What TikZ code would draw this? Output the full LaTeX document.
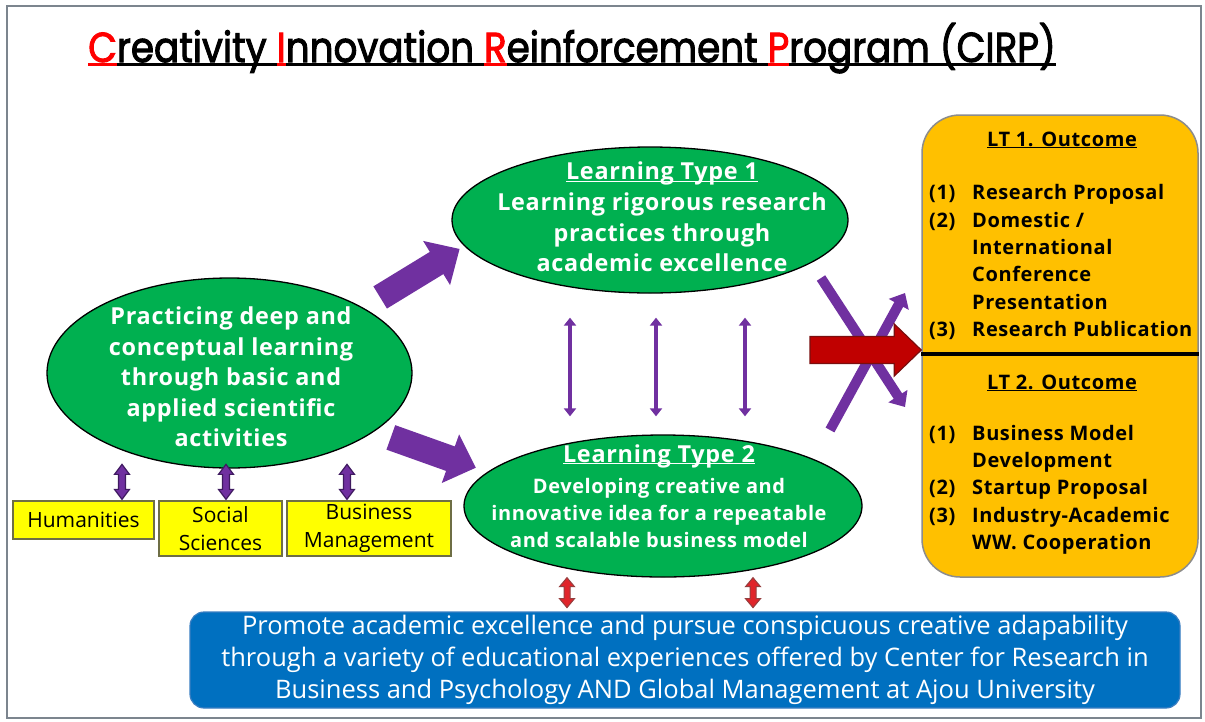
\documentclass[tikz,border=0pt]{standalone}
\usepackage{fontspec}
\setmainfont{Open Sans}
\newfontfamily\bsans[LetterSpace=3]{Open Sans}
\newfontfamily\titlefont[FakeBold=2.5]{Poppins}
\usetikzlibrary{shapes.geometric,arrows.meta,calc}
\definecolor{cgreen}{HTML}{00B050}
\definecolor{cpurple}{HTML}{7030A0}
\definecolor{cdpurple}{HTML}{3F1A60}
\definecolor{corange}{HTML}{FFC000}
\definecolor{cblue}{HTML}{0070C0}
\definecolor{cblueline}{HTML}{3A7EC2}
\definecolor{cred}{HTML}{C00000}
\definecolor{cdred}{HTML}{7A0E0E}
\definecolor{clred}{HTML}{E0242A}
\definecolor{cyellow}{HTML}{FFFF00}
\definecolor{cframe}{HTML}{7C858E}
\definecolor{cybord}{HTML}{6E6E45}
\newcommand\ulbox[2]{\sbox0{#2}\rlap{\color{#1}\rule[-0.1em]{\wd0}{0.065em}}\usebox0}
\newcommand\vdblarrow[6]{\filldraw[#1] let \p1=(#2), \p2=(#3) in
 (\x1,\y1) -- ({\x1+#5},{\y1-#6}) -- ({\x1+#4},{\y1-#6}) -- ({\x1+#4},{\y2+#6}) -- ({\x1+#5},{\y2+#6}) -- (\x1,\y2) -- ({\x1-#5},{\y2+#6}) -- ({\x1-#4},{\y2+#6}) -- ({\x1-#4},{\y1-#6}) -- ({\x1-#5},{\y1-#6}) -- cycle;}
\tikzset{
  greenell/.style={ellipse, draw=black, line width=1.3pt, fill=cgreen, inner sep=0pt},
  elltext/.style={text=white, align=center, inner sep=0pt},
  ybox/.style={draw=cybord, line width=1.3pt, fill=cyellow, align=center, inner sep=0pt, font=\fontsize{21}{28}\selectfont},
  obox/.style={draw=black!45, line width=1.5pt, fill=corange, rounded corners=38pt, inner sep=0pt},
  bbox/.style={draw=cblueline, line width=1.2pt, fill=cblue, rounded corners=14pt, text=white, align=center, inner sep=0pt},
  bigarrow/.style={draw=cpurple, line width=26pt, -{Triangle[length=27pt,width=50pt]}},
  thinv/.style={draw=cpurple, line width=4.5pt, arrows={Triangle[length=8pt,width=12pt]-Triangle[length=8pt,width=12pt]}},
  xbar/.style={draw=cpurple, line width=10pt, -{Triangle[length=13pt,width=22pt]}},
  sdbl/.style={fill=cpurple, draw=cdpurple, line width=1.2pt},
  rdbl/.style={fill=clred, draw=cdred!80, line width=1pt},
  redarr/.style={fill=cred, draw=cdred, line width=1.2pt},
  outtext/.style={font=\bsans\bfseries\fontsize{20}{27.3}\selectfont, inner sep=0pt},
}
\begin{document}
\begin{tikzpicture}[x=1pt,y=-1pt]
\fill[white] (0,0) rectangle (1205,721);
\useasboundingbox (0,0) rectangle (1205,721);
\draw[cframe, line width=2pt] (7,6) rectangle (1201,718);

% title
\node[anchor=base west, inner sep=0pt, font=\titlefont\fontsize{37.3}{44}\selectfont] (title) at (88,62)
 {\scalebox{1}[1.12]{\ulbox{red}{\color{red}C}\ulbox{black}{reativity }\ulbox{red}{\color{red}I}\ulbox{black}{nnovation }\ulbox{red}{\color{red}R}\ulbox{black}{einforcement }\ulbox{red}{\color{red}P}\ulbox{black}{rogram (CIRP)}}};

% ellipses
\node[greenell, minimum width=365pt, minimum height=190pt] (L) at (229.5,373) {};
\node[elltext, font=\bsans\bfseries\fontsize{23.4}{30.5}\selectfont] (Lt) at (231,377)
 {Practicing deep and\\conceptual learning\\through basic and\\applied scientific\\activities};
\node[greenell, minimum width=396pt, minimum height=146pt] (A) at (650,220) {};
\node[elltext, font=\bsans\bfseries\fontsize{23.4}{30.7}\selectfont] (At) at (662,217)
 {\ulbox{white}{Learning Type 1}\\Learning rigorous research\\practices through\\academic excellence};
\node[greenell, minimum width=398pt, minimum height=142pt] (B) at (663,506) {};
\node[elltext, font=\bsans\bfseries\fontsize{23.4}{30}\selectfont] (Bt1) at (659,456) {\ulbox{white}{Learning Type 2}};
\node[elltext, font=\bsans\bfseries\fontsize{20}{27}\selectfont] (Bt2) at (659,513)
 {Developing creative and\\innovative idea for a repeatable\\and scalable business model};

% yellow boxes
\node[ybox, minimum width=141pt, minimum height=38pt] (H) at (83.5,520) {Humanities};
\node[ybox, minimum width=123pt, minimum height=55pt] (S) at (220.5,528.5) {Social\\Sciences};
\node[ybox, minimum width=164pt, minimum height=55pt] (M) at (369,528.5) {Business\\Management};

% outcome box
\node[obox, minimum width=276pt, minimum height=462pt] (R) at (1060,346) {};
\draw[line width=3.5pt] ([yshift=-8pt]R.west) -- ([yshift=-8pt]R.east);
\node[outtext] (O1) at (1062,140) {\ulbox{black}{LT 1. Outcome}};
\node[outtext, anchor=north west] (O1l) at (929,180.5)
 {\begin{tabular}{@{}p{43pt}@{}l@{}}(1)&Research Proposal\\(2)&Domestic /\\&International\\&Conference\\&Presentation\\(3)&Research Publication\end{tabular}};
\node[outtext] (O2) at (1062,383) {\ulbox{black}{LT 2. Outcome}};
\node[outtext, anchor=north west] (O2l) at (929,421)
 {\begin{tabular}{@{}p{43pt}@{}l@{}}(1)&Business Model\\&Development\\(2)&Startup Proposal\\(3)&Industry-Academic\\&WW. Cooperation\end{tabular}};

% blue box
\node[bbox, minimum width=990pt, minimum height=96pt, font=\fontsize{25.5}{32}\selectfont] (P) at (685,660)
 {Promote academic excellence and pursue conspicuous creative adapability\\through a variety of educational experiences offered by Center for Research in\\Business and Psychology AND Global Management at Ajou University};

% big purple arrows
\draw[bigarrow, shorten <=19.7pt, shorten >=5.4pt] (L.26) -- (A.188);
\draw[bigarrow, shorten <=17.5pt, shorten >=12.3pt] (L.-22) -- (B.169);

% thin vertical double arrows
\coordinate (v1) at ([xshift=-80pt,yshift=-24pt]A.south);
\coordinate (v2) at ([xshift=6pt,yshift=-24pt]A.south);
\coordinate (v3) at ([xshift=95pt,yshift=-24pt]A.south);
\draw[thinv, shorten >=18pt] (v1) -- (v1 |- B.north);
\draw[thinv, shorten >=18pt] (v2) -- (v2 |- B.north);
\draw[thinv, shorten >=18pt] (v3) -- (v3 |- B.north);

% purple X and red arrow
\coordinate (xa1) at (821,278);
\coordinate (xa2) at (905,407);
\coordinate (xb1) at (830,430);
\coordinate (xb2) at (905,293);
\draw[xbar] (xa1) -- (xa2);
\draw[xbar] (xb1) -- (xb2);
\coordinate (rt) at (810,350);
\filldraw[redarr] let \p1=(rt), \p2=([yshift=-4pt]R.west) in
 (\x1,{\y2+13.5pt}) -- ({\x2-27pt},{\y2+13.5pt}) -- ({\x2-27pt},{\y2+26pt}) -- (\x2,\y2) -- ({\x2-27pt},{\y2-26pt}) -- ({\x2-27pt},{\y2-13.5pt}) -- (\x1,{\y2-13.5pt}) -- cycle;

% small double arrows to disciplines
\vdblarrow{sdbl}{[xshift=38.5pt,yshift=36pt]H.north}{[xshift=38.5pt,yshift=1pt]H.north}{3.5pt}{7.5pt}{10pt}
\vdblarrow{sdbl}{[xshift=5.5pt,yshift=36pt]S.north}{[xshift=5.5pt,yshift=1pt]S.north}{3.5pt}{7.5pt}{10pt}
\vdblarrow{sdbl}{[xshift=-22pt,yshift=36pt]M.north}{[xshift=-22pt,yshift=1pt]M.north}{3.5pt}{7.5pt}{10pt}

% red double arrows to blue box
\vdblarrow{rdbl}{[xshift=-96pt]B.south}{[xshift=-96pt,yshift=-30pt]B.south}{3pt}{7.5pt}{9pt}
\vdblarrow{rdbl}{[xshift=90pt]B.south}{[xshift=90pt,yshift=-30pt]B.south}{3pt}{7.5pt}{9pt}
\end{tikzpicture}
\end{document}
